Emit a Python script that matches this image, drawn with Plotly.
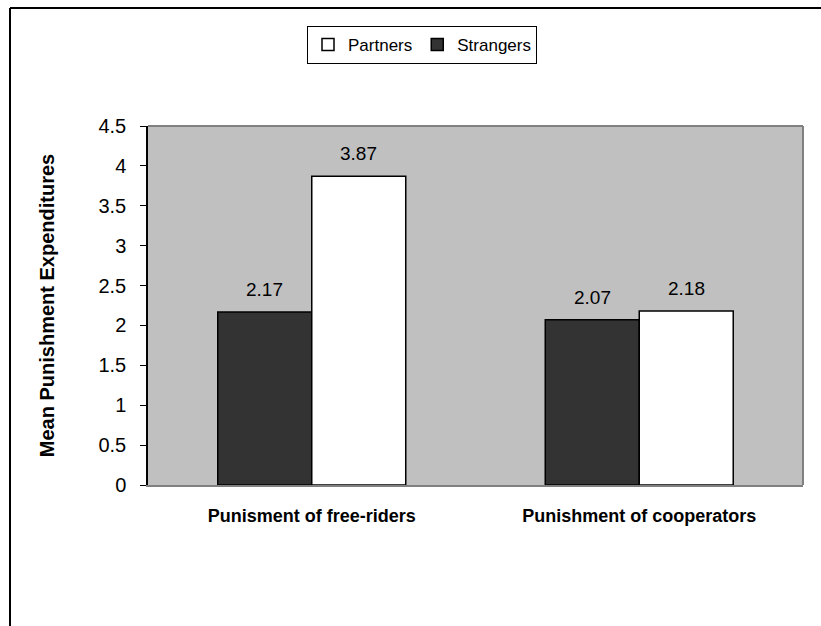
import plotly.graph_objects as go

categories = ["Punisment of free-riders", "Punishment of cooperators"]
strangers = [2.17, 2.07]
partners = [3.87, 2.18]
y_ticks = [0, 0.5, 1, 1.5, 2, 2.5, 3, 3.5, 4, 4.5]

FONT = "Liberation Sans, Arial, sans-serif"

L, R, T, B = 148, 18, 126, 141
W = 821 - L - R
H = 626 - T - B
BAR_HALF = 47  # half the pixel width of one bar, used to centre value labels

def px_x(p):
    return (p - L) / W

def px_y(p):
    return (626 - B - p) / H

fig = go.Figure()
fig.add_trace(go.Bar(
    name="Strangers", x=categories, y=strangers,
    marker=dict(color="#333333", line=dict(color="black", width=1.5)),
))
fig.add_trace(go.Bar(
    name="Partners", x=categories, y=partners,
    marker=dict(color="white", line=dict(color="black", width=1.5)),
))

# value labels above each bar
annotations = []
for series, shift in ((strangers, -BAR_HALF), (partners, BAR_HALF)):
    for cat, val in zip(categories, series):
        annotations.append(dict(
            x=cat, y=val, xref="x", yref="y", text=f"{val:.2f}",
            showarrow=False, xshift=shift, yshift=10, yanchor="bottom",
            font=dict(family=FONT, size=19, color="black"),
        ))

fig.update_layout(
    width=821, height=626,
    margin=dict(l=L, r=R, t=T, b=B),
    paper_bgcolor="white",
    plot_bgcolor="#c0c0c0",
    barmode="group",
    bargap=0.426,
    bargroupgap=0,
    font=dict(family=FONT, color="black"),
    showlegend=True,
    legend=dict(
        orientation="h", traceorder="reversed",
        x=px_x(422), y=px_y(26), xanchor="center", yanchor="top",
        bordercolor="black", borderwidth=1, bgcolor="white",
        font=dict(family=FONT, size=17, color="black"),
        itemwidth=30,
    ),
    xaxis=dict(
        showline=True, linecolor="#808080", linewidth=1.5,
        ticks="", ticklabelstandoff=14,
        tickfont=dict(family=FONT, size=18, color="black"),
        tickprefix="<b>", ticksuffix="</b>",
    ),
    yaxis=dict(
        range=[0, 4.5], tickvals=y_ticks,
        ticktext=[f"{v:g}" for v in y_ticks],
        showgrid=False, zeroline=False,
        showline=True, linecolor="black", linewidth=1.5,
        ticks="outside", ticklen=6, tickcolor="black",
        ticklabelstandoff=10,
        tickfont=dict(family=FONT, size=20, color="black"),
        title=dict(text="<b>Mean Punishment Expenditures</b>",
                   font=dict(family=FONT, size=20, color="black"),
                   standoff=38),
    ),
    annotations=annotations,
    shapes=[
        # gray border on top and right of the plotting area
        dict(type="line", xref="paper", yref="paper", x0=0, x1=1, y0=1, y1=1,
             line=dict(color="#808080", width=2)),
        dict(type="line", xref="paper", yref="paper", x0=1, x1=1, y0=0, y1=1,
             line=dict(color="#808080", width=2)),
        # outer frame of the chart
        dict(type="line", xref="paper", yref="paper",
             x0=px_x(10), x1=px_x(821), y0=px_y(8), y1=px_y(8),
             line=dict(color="black", width=2)),
        dict(type="line", xref="paper", yref="paper",
             x0=px_x(10), x1=px_x(10), y0=px_y(8), y1=px_y(626),
             line=dict(color="black", width=2)),
    ],
)

fig.write_html("out.html", config={"displayModeBar": False})
